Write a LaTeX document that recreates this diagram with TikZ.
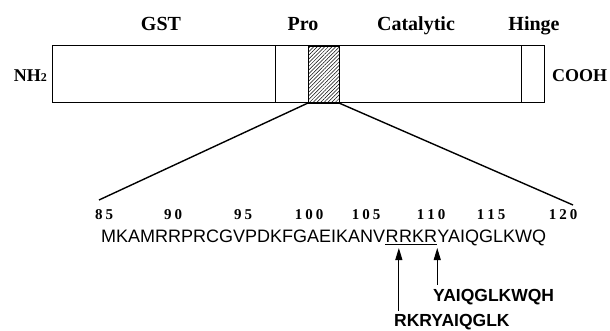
\documentclass[tikz,border=0pt]{standalone}
\usepackage{fontspec}
\setmainfont{Liberation Serif}
\setsansfont{Liberation Sans}
\usepackage{tikz}
\usetikzlibrary{arrows.meta,positioning,patterns.meta}
\newcommand\dgap{\kern3pt}

\begin{document}
\begin{tikzpicture}[x=1pt,y=-1pt,
  domlabel/.style={font=\fontsize{20}{20}\selectfont\bfseries,anchor=base,inner sep=0pt},
  ends/.style={font=\fontsize{18}{18}\selectfont\bfseries,anchor=base,inner sep=0pt},
  resnum/.style={font=\fontsize{15}{15}\selectfont\bfseries,anchor=base,inner sep=0pt},
  seq/.style={font=\sffamily\fontsize{18}{18}\selectfont,inner sep=0pt,anchor=base west},
  frag/.style={font=\sffamily\bfseries\fontsize{17.5}{17.5}\selectfont,inner sep=0pt,anchor=base west},
  cut/.style={-{Triangle[length=12pt,width=7pt]},line width=1pt}]
\useasboundingbox (0,0) rectangle (610,331);
% protein bar with the domain borders and the hatched pro-region
\coordinate (nw) at (52,46);
\coordinate (se) at (544,103);
\draw[line width=1pt] (nw) rectangle (se);
\draw[line width=0.8pt] (275,46) -- (275,103);
\draw[line width=0.8pt] (521,46) -- (521,103);
\coordinate (hatchtl) at (308,46);
\coordinate (hatchbr) at (339,103);
\draw[line width=0.8pt,pattern={Lines[angle=45,distance=2.6pt,line width=0.5pt]}] (hatchtl) rectangle (hatchbr);
% domain names and termini
\node[domlabel] (gst) at (161,31){GST};
\node[domlabel] (pro) at (303,31){Pro};
\node[domlabel] (cat) at (416,31){Catalytic};
\node[domlabel] (hinge) at (534,31){Hinge};
\node[ends,anchor=base east] (nterm) at (47,82){NH{\fontsize{12}{12}\selectfont 2}};
\node[ends,anchor=base west] (cterm) at (552,82){COOH};
% expansion of the hatched part
\coordinate (zoomleft) at (99,200);
\coordinate (zoomright) at (573,205);
\draw[line width=1.4pt] (hatchtl |- se) -- (zoomleft);
\draw[line width=1.4pt] (hatchbr) -- (zoomright);
% residue numbers
\foreach \x/\n/\lab in {104/85/{8\dgap5}, 173/90/{9\dgap0}, 243/95/{9\dgap5},
  309/100/{1\dgap0\dgap0}, 366/105/{1\dgap0\dgap5}, 431/110/{1\dgap1\dgap0},
  491/115/{1\dgap1\dgap5}, 563/120/{1\dgap2\dgap0}}{
  \node[resnum] (num\n) at (\x,219){\lab};
}
% sequence 85--120
\node[seq] (seqa) at (101,242){MKAMRRPRCGVPDKFGAEIKANV};
\node[seq] (seqb) at (seqa.base east){R};
\node[seq] (seqc) at (seqb.base east){RKR};
\node[seq] (seqd) at (seqc.base east){YAIQGLKWQ};
\draw[line width=0.8pt] ([yshift=-2pt]seqb.base west) -- ([yshift=-2pt]seqc.base east);
% cleavage sites and fragments
\coordinate (cuta) at ([yshift=-6pt]seqb.base east);
\coordinate (cutb) at ([yshift=-6pt]seqc.base east);
\node[frag] (fragb) at (433,301){YAIQGLKWQH};
\node[frag] (fraga) at (394,326){RKRYAIQGLK};
\draw[cut] ([yshift=3pt]fraga.north -| cuta) -- (cuta);
\draw[cut] ([yshift=4pt]fragb.north -| cutb) -- (cutb);
\end{tikzpicture}
\end{document}
